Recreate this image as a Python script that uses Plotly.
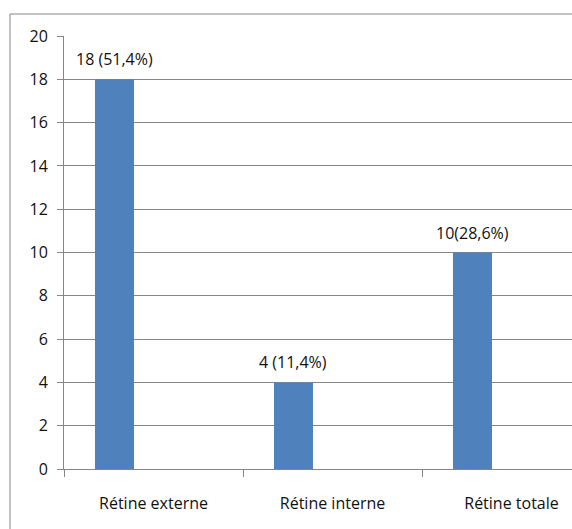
import plotly.graph_objects as go

categories = ["Rétine externe", "Rétine interne", "Rétine totale"]
counts = [18, 4, 10]
labels = ["18 (51,4%)", "4 (11,4%)", "10(28,6%)"]
y_ticks = [0, 2, 4, 6, 8, 10, 12, 14, 16, 18, 20]

W, H = 572, 529
L, R, T, B = 64, 0, 36, 60
pw, ph = W - L - R, H - T - B

# category slot = 1 unit; three series slots per category, only the first is filled
bar_w = 0.218
bar_off = -1.5 * bar_w
positions = list(range(len(categories)))

grid_col = "#868686"
text_col = "#111111"
font_family = "Open Sans, sans-serif"
fs = 16

fig = go.Figure()
fig.add_trace(go.Bar(
    x=positions, y=counts,
    width=bar_w, offset=bar_off,
    marker=dict(color="#4F81BD", line=dict(width=0)),
    hoverinfo="skip",
))

for xi, yi, lab in zip(positions, counts, labels):
    fig.add_annotation(
        x=xi + bar_off + bar_w / 2, y=yi, text=lab,
        showarrow=False, xanchor="center", yanchor="bottom", yshift=7,
        font=dict(size=fs, color=text_col, family=font_family),
    )

x_end = -0.5 + pw / 179.0

fig.update_layout(
    width=W, height=H,
    margin=dict(l=L, r=R, t=T, b=B),
    paper_bgcolor="white", plot_bgcolor="white",
    showlegend=False,
    font=dict(family=font_family, size=fs, color=text_col),
    xaxis=dict(
        range=[-0.5, x_end],
        tickmode="array", tickvals=positions, ticktext=categories,
        ticks="", showgrid=False, zeroline=False,
        showline=True, linecolor=grid_col, linewidth=1,
        ticklabelstandoff=20,
        tickfont=dict(size=fs, color=text_col, family=font_family),
        minor=dict(tick0=0.5, dtick=1, ticks="outside", ticklen=7,
                   tickcolor=grid_col, tickwidth=1, showgrid=False),
    ),
    yaxis=dict(
        range=[0, 20], tickmode="array", tickvals=y_ticks,
        showgrid=True, gridcolor=grid_col, gridwidth=1,
        zeroline=False,
        showline=True, linecolor=grid_col, linewidth=1,
        ticks="outside", ticklen=6, tickcolor=grid_col,
        ticklabelstandoff=6,
        tickfont=dict(size=fs, color=text_col, family=font_family),
    ),
)

# chart-area border
fig.add_shape(
    type="rect", xref="paper", yref="paper",
    x0=(10 - L) / pw, x1=(W + 20 - L) / pw,
    y0=-(B + 20) / ph, y1=1 + (T - 14) / ph,
    line=dict(color=grid_col, width=1), fillcolor="rgba(0,0,0,0)",
    layer="below",
)

fig.write_html("out.html")
